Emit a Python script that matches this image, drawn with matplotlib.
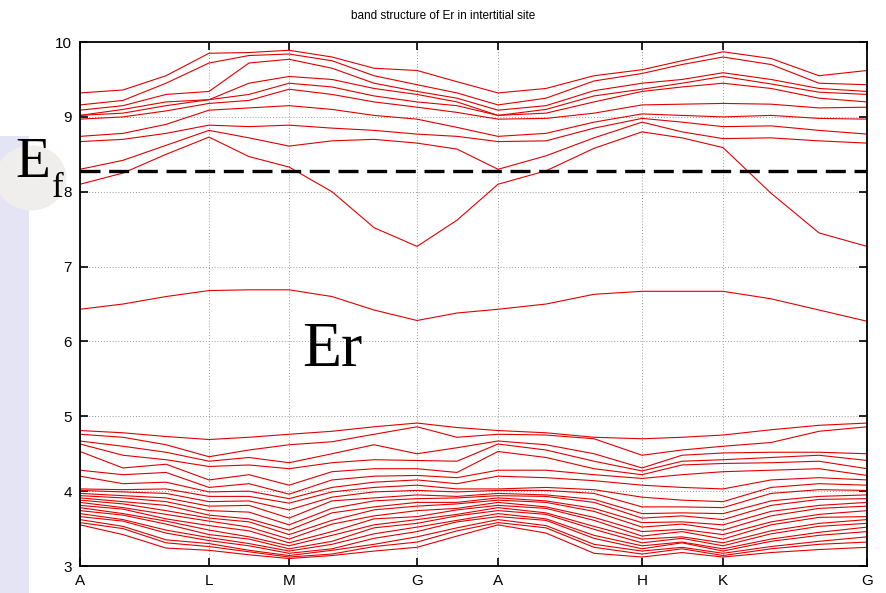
import matplotlib
matplotlib.use("Agg")
import matplotlib.pyplot as plt
from matplotlib.patches import Rectangle, Ellipse

# k-path sample positions (high-symmetry points at index 0,3,5,8,10,13,15,18)
k = [0.0, 0.546, 1.093, 1.639, 2.147, 2.656, 3.202, 3.736, 4.282, 4.790,
     5.311, 5.921, 6.531, 7.141, 7.649, 8.170, 8.780, 9.390, 10.0]
tick_pos = [0.0, 1.639, 2.656, 4.282, 5.311, 7.141, 8.170, 10.0]
tick_labels = ["A", "L", "M", "G", "A", "H", "K", "G"]
fermi = 8.28

# upper manifold: energies (sorted) at each k sample
upper = [
    [8.10, 8.30, 8.67, 8.74, 8.97, 9.02, 9.02, 9.09, 9.16, 9.32],
    [8.25, 8.42, 8.70, 8.78, 9.00, 9.05, 9.10, 9.15, 9.22, 9.36],
    [8.50, 8.62, 8.78, 8.90, 9.08, 9.15, 9.20, 9.30, 9.45, 9.55],
    [8.73, 8.82, 8.89, 9.09, 9.18, 9.23, 9.23, 9.34, 9.72, 9.85],
    [8.47, 8.72, 8.87, 9.12, 9.22, 9.30, 9.45, 9.72, 9.82, 9.86],
    [8.33, 8.61, 8.89, 9.15, 9.37, 9.45, 9.54, 9.77, 9.84, 9.89],
    [8.00, 8.68, 8.85, 9.10, 9.30, 9.40, 9.50, 9.65, 9.75, 9.80],
    [7.52, 8.70, 8.82, 9.02, 9.20, 9.28, 9.38, 9.45, 9.55, 9.65],
    [7.27, 8.65, 8.77, 8.97, 9.13, 9.20, 9.30, 9.34, 9.43, 9.62],
    [7.62, 8.57, 8.74, 8.86, 9.06, 9.15, 9.20, 9.25, 9.32, 9.47],
    [8.10, 8.30, 8.67, 8.74, 8.97, 9.02, 9.02, 9.09, 9.16, 9.32],
    [8.28, 8.48, 8.68, 8.78, 8.98, 9.05, 9.10, 9.15, 9.25, 9.38],
    [8.58, 8.72, 8.85, 8.93, 9.05, 9.20, 9.28, 9.35, 9.48, 9.55],
    [8.80, 8.93, 8.98, 9.04, 9.16, 9.34, 9.37, 9.45, 9.58, 9.63],
    [8.72, 8.80, 8.93, 9.02, 9.17, 9.40, 9.45, 9.50, 9.70, 9.75],
    [8.59, 8.71, 8.87, 9.00, 9.18, 9.45, 9.54, 9.59, 9.80, 9.87],
    [7.98, 8.72, 8.88, 9.02, 9.17, 9.38, 9.44, 9.50, 9.70, 9.78],
    [7.45, 8.68, 8.82, 8.98, 9.12, 9.25, 9.33, 9.38, 9.45, 9.55],
    [7.27, 8.65, 8.77, 8.97, 9.13, 9.20, 9.30, 9.34, 9.43, 9.62],
]

# isolated band around 6.5 eV
middle = [6.43, 6.50, 6.60, 6.68, 6.69, 6.69, 6.60, 6.42, 6.28, 6.38,
          6.43, 6.50, 6.63, 6.67, 6.67, 6.67, 6.57, 6.42, 6.27]

# lower manifold (3-5 eV)
lower = [
    [3.55, 3.58, 3.62, 3.66, 3.70, 3.74, 3.78, 3.81, 3.85, 3.88, 3.91, 3.94, 3.97, 4.01, 4.03, 4.20, 4.28, 4.53, 4.63, 4.67, 4.76, 4.81],
    [3.42, 3.50, 3.53, 3.60, 3.62, 3.68, 3.70, 3.76, 3.78, 3.83, 3.86, 3.91, 3.94, 3.99, 4.02, 4.10, 4.22, 4.31, 4.48, 4.60, 4.72, 4.78],
    [3.24, 3.31, 3.35, 3.44, 3.48, 3.56, 3.60, 3.63, 3.69, 3.74, 3.81, 3.86, 3.91, 3.97, 4.03, 4.12, 4.25, 4.36, 4.42, 4.52, 4.62, 4.73],
    [3.21, 3.26, 3.30, 3.34, 3.38, 3.42, 3.48, 3.54, 3.60, 3.64, 3.68, 3.74, 3.80, 3.86, 3.93, 3.99, 4.05, 4.15, 4.33, 4.40, 4.46, 4.69],
    [3.15, 3.19, 3.21, 3.27, 3.30, 3.36, 3.39, 3.47, 3.52, 3.59, 3.63, 3.72, 3.81, 3.87, 3.93, 4.00, 4.10, 4.22, 4.35, 4.45, 4.55, 4.72],
    [3.10, 3.12, 3.14, 3.17, 3.20, 3.23, 3.27, 3.31, 3.36, 3.42, 3.48, 3.55, 3.64, 3.75, 3.84, 3.90, 3.96, 4.08, 4.30, 4.38, 4.62, 4.76],
    [3.14, 3.16, 3.21, 3.23, 3.29, 3.33, 3.41, 3.46, 3.56, 3.61, 3.71, 3.77, 3.87, 3.92, 3.99, 4.05, 4.15, 4.26, 4.38, 4.50, 4.66, 4.80],
    [3.20, 3.26, 3.29, 3.37, 3.43, 3.51, 3.55, 3.63, 3.67, 3.75, 3.79, 3.87, 3.91, 3.99, 4.05, 4.12, 4.20, 4.30, 4.42, 4.62, 4.76, 4.86],
    [3.25, 3.32, 3.39, 3.46, 3.52, 3.57, 3.62, 3.66, 3.74, 3.80, 3.85, 3.90, 3.95, 4.01, 4.08, 4.15, 4.21, 4.30, 4.41, 4.50, 4.86, 4.91],
    [3.40, 3.47, 3.51, 3.59, 3.61, 3.67, 3.69, 3.75, 3.77, 3.83, 3.85, 3.91, 3.93, 3.99, 4.03, 4.10, 4.18, 4.25, 4.40, 4.58, 4.72, 4.85],
    [3.55, 3.58, 3.62, 3.66, 3.70, 3.74, 3.78, 3.81, 3.85, 3.88, 3.91, 3.94, 3.97, 4.01, 4.03, 4.20, 4.28, 4.53, 4.63, 4.67, 4.76, 4.81],
    [3.44, 3.51, 3.54, 3.61, 3.63, 3.69, 3.71, 3.77, 3.79, 3.85, 3.87, 3.93, 3.95, 4.01, 4.05, 4.18, 4.28, 4.45, 4.55, 4.62, 4.75, 4.78],
    [3.17, 3.25, 3.29, 3.37, 3.41, 3.49, 3.53, 3.61, 3.65, 3.73, 3.77, 3.85, 3.89, 3.97, 4.02, 4.14, 4.22, 4.30, 4.40, 4.50, 4.70, 4.72],
    [3.12, 3.16, 3.20, 3.23, 3.27, 3.31, 3.36, 3.40, 3.46, 3.52, 3.58, 3.64, 3.70, 3.79, 3.92, 4.08, 4.17, 4.22, 4.27, 4.31, 4.48, 4.70],
    [3.18, 3.23, 3.25, 3.31, 3.32, 3.37, 3.39, 3.46, 3.49, 3.56, 3.59, 3.67, 3.71, 3.79, 3.88, 4.05, 4.22, 4.35, 4.40, 4.48, 4.55, 4.72],
    [3.12, 3.14, 3.17, 3.20, 3.23, 3.27, 3.31, 3.36, 3.42, 3.48, 3.55, 3.62, 3.70, 3.78, 3.86, 4.03, 4.26, 4.37, 4.42, 4.51, 4.60, 4.75],
    [3.18, 3.23, 3.26, 3.33, 3.36, 3.43, 3.47, 3.55, 3.59, 3.67, 3.73, 3.81, 3.87, 3.97, 4.05, 4.15, 4.28, 4.38, 4.45, 4.52, 4.65, 4.82],
    [3.22, 3.29, 3.33, 3.41, 3.45, 3.53, 3.57, 3.65, 3.69, 3.77, 3.81, 3.89, 3.93, 4.02, 4.10, 4.18, 4.30, 4.40, 4.48, 4.52, 4.80, 4.88],
    [3.25, 3.32, 3.39, 3.46, 3.52, 3.57, 3.62, 3.66, 3.74, 3.80, 3.85, 3.90, 3.95, 4.01, 4.08, 4.15, 4.21, 4.30, 4.41, 4.50, 4.86, 4.91],
]

plt.rcParams["font.family"] = ["Liberation Sans", "DejaVu Sans"]

fig = plt.figure(figsize=(8.86, 5.93), dpi=100)

# faint slide background on the left
fig.patches.append(Rectangle((0, 0), 0.033, 0.77, transform=fig.transFigure,
                             facecolor="#e4e4f5", edgecolor="none", zorder=0))
fig.patches.append(Ellipse((0.035, 0.70), 0.08, 0.11, transform=fig.transFigure,
                           facecolor="#f0eded", edgecolor="none", zorder=0))

ax = fig.add_axes([0.0903, 0.0455, 0.8883, 0.8836])
ax.set_facecolor("none")

red = "#e00000"
for i in range(len(upper[0])):
    ax.plot(k, [row[i] for row in upper], color=red, lw=0.8)
ax.plot(k, middle, color=red, lw=0.8)
for i in range(len(lower[0])):
    ax.plot(k, [row[i] for row in lower], color=red, lw=0.8)

ax.axhline(fermi, color="black", lw=2.4, linestyle=(0, (6, 2.6)), zorder=5)

ax.set_xlim(0, 10)
ax.set_ylim(3, 10)
ax.set_xticks(tick_pos)
ax.set_xticklabels(tick_labels)
ax.set_yticks(range(3, 11))
ax.grid(True, color="#999999", linestyle=(0, (1, 2)), lw=0.7)
ax.tick_params(direction="in", length=6, width=1.2, top=True, right=True,
               labelsize=11, pad=6)
for s in ax.spines.values():
    s.set_linewidth(1.3)

fig.text(0.5, 0.973, "band structure of Er in intertitial site", ha="center",
         va="center", fontsize=8.5)

fig.text(0.017, 0.701, "E", fontsize=41, family="Liberation Serif", va="baseline")
fig.text(0.058, 0.668, "f", fontsize=25, family="Liberation Serif", va="baseline")
ax.text(2.82, 5.87, "Er", fontsize=46, family="Liberation Serif", va="center")

fig.savefig("out.png", dpi=100)
